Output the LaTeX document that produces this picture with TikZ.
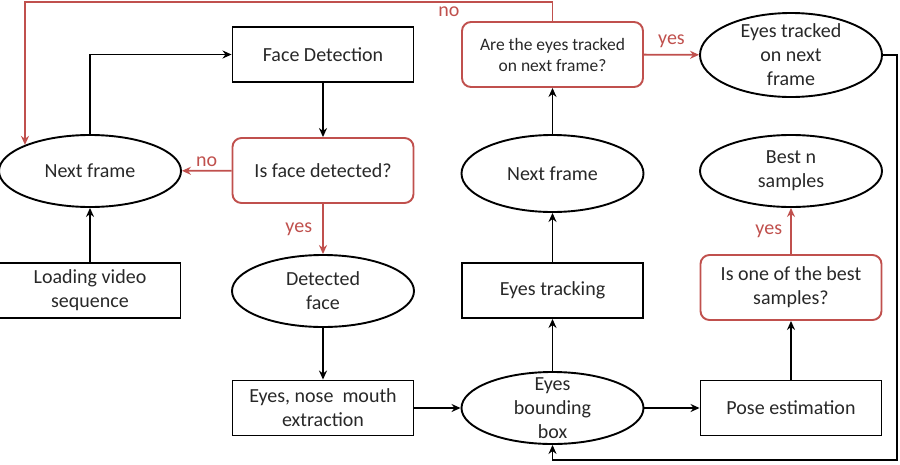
\documentclass[tikz,border=0pt]{standalone}
\usepackage{fontspec}
\setmainfont{Carlito}
\usetikzlibrary{shapes.geometric,arrows.meta}
\definecolor{askred}{RGB}{192,80,77}
\definecolor{txtgray}{RGB}{40,40,40}
\begin{document}
\begin{tikzpicture}[x=1pt, y=-1pt, line width=1.9pt, >={Stealth[length=9pt,width=8pt]},
    every node/.style={font=\fontsize{20}{24}\selectfont, text=txtgray, align=center, inner sep=0pt},
    procbox/.style={rectangle, draw, minimum width=181pt, minimum height=55pt},
    stateell/.style={ellipse, draw, minimum width=182pt, minimum height=72pt},
    testbox/.style={rectangle, rounded corners=9pt, draw=askred, minimum width=181pt, minimum height=65pt},
    flow/.style={->, black},
    noflow/.style={->, askred},
    answer/.style={text=askred}]
    \useasboundingbox (0,0) rectangle (900,464);
    % left column and face detection
    \node[procbox] (facedet) at (323,54.5) {Face Detection};
    \node[testbox] (isface) at (323,170.5) {Is face detected?};
    \node[stateell] (nextL) at (90,171) {Next frame};
    \node[procbox] (loading) at (90,290.5) {Loading video\\sequence};
    \node[stateell] (detface) at (323,291) {Detected\\face};
    \node[procbox] (extract) at (323,408) {Eyes, nose~~mouth\\extraction};
    % eyes tracking column
    \node[stateell, inner ysep=-8pt] (bbox) at (552.5,408) {Eyes\\bounding\\box};
    \node[procbox] (tracking) at (552.5,290.5) {Eyes tracking};
    \node[stateell, minimum height=77pt] (nextM) at (552.5,173.5) {Next frame};
    \node[testbox, font=\fontsize{17.5}{21}\selectfont] (tracked) at (552.5,54.5) {Are the eyes tracked\\on next frame?};
    % right column
    \node[stateell, minimum height=84pt, inner ysep=-4pt] (trackedok) at (791,55) {Eyes tracked\\on next\\frame};
    \node[stateell] (bestn) at (791,171) {Best n\\samples};
    \node[testbox] (isbest) at (791,287.5) {Is one of the best\\samples?};
    \node[procbox] (pose) at (791,408) {Pose estimation};
    \coordinate (rightdown) at (897,460);

    \draw[flow] (nextL.north) |- (facedet.west);
    \draw[flow] (facedet) -- (isface);
    \draw[noflow] (isface) -- node[answer, above=3pt] {no} (nextL);
    \draw[noflow] (isface) -- node[answer, left=10pt] {yes} (detface);
    \draw[flow] (loading) -- (nextL);
    \draw[flow] (detface) -- (extract);
    \draw[flow] (extract) -- (bbox);
    \draw[flow] (bbox) -- (tracking);
    \draw[flow] (tracking) -- (nextM);
    \draw[flow] (nextM) -- (tracked);
    \draw[noflow] (tracked) -- node[answer, above=6pt] {yes} (trackedok);
    \draw[noflow] (tracked.north) -- ++(0,-19) -| (nextL.north west);
    \node[answer] (toplabel) at (449,12) {no};
    \draw[flow] (bbox) -- (pose);
    \draw[flow] (pose) -- (isbest);
    \draw[noflow] (isbest) -- node[answer, left=8pt] {yes} (bestn);
    \draw[flow, line width=1.2pt] (trackedok.east) -| (rightdown) -| (bbox.south);
\end{tikzpicture}
\end{document}
